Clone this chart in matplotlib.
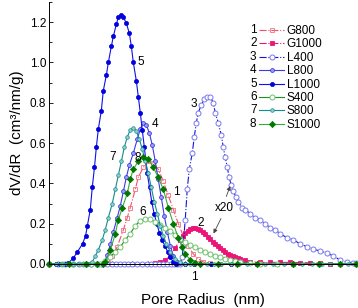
import numpy as np
import matplotlib
matplotlib.use("Agg")
import matplotlib.pyplot as plt
import matplotlib.text as mtext
from matplotlib.legend_handler import HandlerLine2D
from matplotlib.ticker import AutoMinorLocator, NullFormatter

plt.rcParams['font.family'] = ['Liberation Sans', 'DejaVu Sans']

# pore radius (nm) / dV/dR values
g800_x = [0.20, 0.25, 0.30, 0.34, 0.37, 0.386, 0.403, 0.426, 0.456, 0.476, 0.492, 0.520, 0.538, 0.569,
          0.601, 0.635, 0.671, 0.710, 0.750, 0.793, 0.838, 0.885, 0.936, 0.989, 1.045, 1.105, 1.194,
          1.334, 1.6, 2.0, 2.5, 3.0, 4.0, 5.0, 6.0]
g800_y = [0, 0, 0, 0, 0, 0.005, 0.04, 0.085, 0.17, 0.23, 0.28, 0.37, 0.43, 0.48,
          0.51, 0.50, 0.47, 0.41, 0.34, 0.27, 0.20, 0.14, 0.09, 0.05, 0.025, 0.01, 0.003,
          0, 0, 0, 0, 0, 0, 0, 0]

g1000_x = [0.20, 0.30, 0.40, 0.50, 0.60, 0.614, 0.649, 0.686, 0.725, 0.767, 0.810, 0.856, 0.885, 0.905,
           0.936, 0.957, 0.989, 1.011, 1.045, 1.069, 1.105, 1.129, 1.168, 1.194, 1.234, 1.262, 1.305,
           1.334, 1.379, 1.409, 1.457, 1.490, 1.540, 1.575, 1.628, 1.664, 1.759, 1.858, 2.077, 2.320,
           2.591, 2.9, 3.233, 3.6, 4.036, 4.506, 5.0, 6.0]
g1000_y = [0, 0, 0, 0, 0, 0, 0.003, 0.01, 0.02, 0.04, 0.08, 0.12, 0.14, 0.155,
           0.165, 0.175, 0.177, 0.178, 0.175, 0.17, 0.16, 0.15, 0.135, 0.125, 0.11, 0.10, 0.09,
           0.08, 0.07, 0.06, 0.052, 0.045, 0.04, 0.035, 0.03, 0.025, 0.018, 0.012, 0.008, 0.008,
           0.008, 0.008, 0.007, 0.006, 0.004, 0, 0, 0]

l400_x = [0.20, 0.22, 0.24, 0.26, 0.28, 0.30, 0.32, 0.34, 0.36, 0.38, 0.40, 0.42, 0.44, 0.46, 0.48,
          0.50, 0.53, 0.56, 0.59, 0.62, 0.65, 0.68, 0.71, 0.74, 0.77, 0.80, 0.83, 0.856, 0.876, 0.885,
          0.905, 0.925, 0.946, 0.978, 1.0, 1.022, 1.045, 1.081, 1.117, 1.155, 1.194, 1.234, 1.262,
          1.305, 1.348, 1.379, 1.409, 1.441, 1.473, 1.506, 1.540, 1.592, 1.628, 1.702, 1.759, 1.858,
          1.965, 2.077, 2.194, 2.320, 2.452, 2.591, 2.800, 2.992, 3.233, 3.494, 3.734, 4.036, 4.359,
          4.660, 5.035, 5.440, 5.813, 6.0]
l400_y = [0, 0, 0, 0, 0, 0, 0, 0, 0, 0, 0, 0, 0, 0, 0,
          0, 0, 0, 0, 0, 0, 0, 0, 0, 0, 0, 0, 0, 0.035, 0.10,
          0.22, 0.37, 0.47, 0.55, 0.63, 0.70, 0.75, 0.79, 0.82, 0.83, 0.83, 0.80, 0.75,
          0.70, 0.64, 0.58, 0.53, 0.48, 0.43, 0.39, 0.36, 0.33, 0.31, 0.28, 0.27, 0.25,
          0.23, 0.22, 0.20, 0.18, 0.17, 0.15, 0.13, 0.12, 0.10, 0.085, 0.073, 0.065, 0.054,
          0.04, 0.02, 0.01, 0.005, 0.003]

l800_x = [0.20, 0.23, 0.26, 0.29, 0.32, 0.34, 0.353, 0.369, 0.382, 0.395, 0.408, 0.426, 0.441, 0.456,
          0.471, 0.487, 0.509, 0.532, 0.550, 0.569, 0.588, 0.608, 0.628, 0.649, 0.671, 0.694, 0.717,
          0.742, 0.767, 0.793, 0.819, 0.856, 0.905, 1.0, 1.2, 1.5, 2.0, 3.0, 4.0, 5.0, 6.0]
l800_y = [0, 0, 0, 0, 0, 0, 0, 0.01, 0.045, 0.10, 0.16, 0.23, 0.29, 0.36,
          0.43, 0.49, 0.55, 0.62, 0.67, 0.70, 0.69, 0.65, 0.59, 0.51, 0.42, 0.33, 0.24,
          0.16, 0.09, 0.04, 0.015, 0.003, 0, 0, 0, 0, 0, 0, 0, 0, 0]

l1000_x = [0.20, 0.215, 0.227, 0.240, 0.248, 0.262, 0.274, 0.290, 0.300, 0.306, 0.316, 0.323, 0.331,
           0.338, 0.3455, 0.357, 0.365, 0.378, 0.386, 0.399, 0.408, 0.422, 0.431, 0.446, 0.456, 0.471,
           0.487, 0.498, 0.509, 0.526, 0.538, 0.550, 0.562, 0.575, 0.594, 0.609, 0.624, 0.641, 0.660,
           0.680, 0.700, 0.722, 0.745, 0.767, 0.793, 0.819, 0.9, 1.0, 1.2, 1.5, 2.0, 3.0, 4.0, 5.0, 6.0]
l1000_y = [0, 0, 0, 0, 0.005, 0.03, 0.06, 0.10, 0.14, 0.19, 0.27, 0.38, 0.48,
           0.58, 0.67, 0.76, 0.86, 0.94, 1.00, 1.08, 1.13, 1.19, 1.225, 1.237, 1.225, 1.195,
           1.145, 1.08, 1.00, 0.91, 0.83, 0.75, 0.665, 0.58, 0.45, 0.38, 0.31, 0.25, 0.20,
           0.155, 0.12, 0.09, 0.06, 0.035, 0.008, 0, 0, 0, 0, 0, 0, 0, 0, 0, 0]

s400_x = [0.20, 0.23, 0.26, 0.29, 0.32, 0.34, 0.353, 0.373, 0.395, 0.417, 0.441, 0.466, 0.492, 0.520,
          0.550, 0.581, 0.614, 0.649, 0.686, 0.725, 0.767, 0.810, 0.856, 0.905, 0.957, 1.011, 1.069,
          1.129, 1.194, 1.262, 1.334, 1.409, 1.490, 1.575, 1.664, 1.858, 2.077, 2.5, 3.0, 4.0, 5.0, 6.0]
s400_y = [0, 0, 0, 0, 0, 0, 0, 0.015, 0.035, 0.06, 0.085, 0.12, 0.15, 0.19,
          0.215, 0.225, 0.222, 0.21, 0.195, 0.18, 0.165, 0.145, 0.125, 0.11, 0.095, 0.082, 0.07,
          0.06, 0.05, 0.042, 0.035, 0.027, 0.02, 0.013, 0.008, 0.003, 0, 0, 0, 0, 0, 0]

s800_x = [0.20, 0.215, 0.23, 0.245, 0.26, 0.275, 0.29, 0.30, 0.309, 0.323, 0.334, 0.3455, 0.361, 0.373,
          0.386, 0.403, 0.417, 0.431, 0.446, 0.461, 0.476, 0.492, 0.509, 0.526, 0.544, 0.562, 0.581,
          0.601, 0.621, 0.642, 0.664, 0.686, 0.710, 0.734, 0.767, 0.810, 0.856, 0.905, 0.95, 1.0,
          1.07, 1.15, 1.25, 1.35, 1.5, 1.65, 1.8, 2.0, 2.2, 2.4, 2.7, 3.0, 3.3, 3.7, 4.1, 4.5,
          5.0, 5.5, 6.0]
s800_y = [0, 0, 0, 0, 0, 0, 0, 0, 0, 0.01, 0.04, 0.07, 0.12, 0.17,
          0.23, 0.30, 0.37, 0.44, 0.51, 0.58, 0.63, 0.665, 0.675, 0.66, 0.62, 0.57, 0.51,
          0.45, 0.38, 0.31, 0.25, 0.19, 0.14, 0.10, 0.06, 0.025, 0.008, 0, 0, 0,
          0, 0, 0, 0, 0, 0, 0, 0, 0, 0, 0, 0, 0, 0, 0, 0,
          0, 0, 0]

s1000_x = [0.20, 0.25, 0.30, 0.34, 0.365, 0.373, 0.395, 0.417, 0.431, 0.451, 0.476, 0.492, 0.509, 0.538,
           0.569, 0.601, 0.635, 0.671, 0.710, 0.750, 0.793, 0.838, 0.876, 0.905, 0.957, 1.011, 1.069,
           1.3, 1.6, 2.0, 3.0, 4.0, 5.0, 6.0]
s1000_y = [0, 0, 0, 0, 0, 0.01, 0.07, 0.15, 0.22, 0.28, 0.35, 0.42, 0.47, 0.51,
           0.53, 0.52, 0.48, 0.43, 0.37, 0.28, 0.20, 0.13, 0.085, 0.05, 0.02, 0.005, 0,
           0, 0, 0, 0, 0, 0, 0]

numbers = ['1', '2', '3', '4', '5', '6', '7', '8']
names = ['G800', 'G1000', 'L400', 'L800', 'L1000', 'S400', 'S800', 'S1000']

# curve labels on the plot: (text, x, y)
curve_labels = [('5', 0.55, 1.0), ('4', 0.649, 0.694), ('7', 0.403, 0.53), ('8', 0.532, 0.525),
                ('6', 0.562, 0.258), ('1', 0.819, 0.357), ('3', 1.0, 0.793), ('2', 1.069, 0.203)]


class NumberedHandler(HandlerLine2D):
    # draws "n" in front of the legend line, like "1-o-"
    def __init__(self, num, pad=0.75, **kw):
        super().__init__(**kw)
        self.num = num
        self.pad = pad

    def create_artists(self, legend, orig_handle, xdescent, ydescent, width, height, fontsize, trans):
        off = self.pad * fontsize
        artists = super().create_artists(legend, orig_handle, xdescent - off, ydescent,
                                         width - off, height, fontsize, trans)
        t = mtext.Text(-xdescent, (height - ydescent) / 2, self.num, ha='left', va='center',
                       fontsize=fontsize, transform=trans, family='Liberation Sans')
        return list(artists) + [t]


fig = plt.figure(figsize=(3.58, 3.08), dpi=100)
ax = fig.add_axes([49 / 358, 1 - 264 / 308, 307 / 358, 262 / 308])

common = dict(clip_on=False, linewidth=0.8)
lines = []
lines.append(ax.plot(g800_x, g800_y, linestyle='-.', color='#f0506e', marker='s', markersize=3.3,
                     markerfacecolor='none', markeredgecolor='#f2707f', markeredgewidth=0.6, **common)[0])
lines.append(ax.plot(g1000_x, g1000_y, linestyle='-.', color='#ec1477', marker='s', markersize=3.0,
                     markerfacecolor='#ec1477', markeredgecolor='#ec1477', markeredgewidth=0.6, **common)[0])
lines.append(ax.plot(l400_x, l400_y, linestyle='-.', color='#1414d8', marker='o', markersize=3.6,
                     markerfacecolor='white', markeredgecolor='#7878f0', markeredgewidth=0.7, **common)[0])
lines.append(ax.plot(l800_x, l800_y, linestyle='-', color='#3a3ae6', marker='o', markersize=2.8,
                     markerfacecolor='#9a9af4', markeredgecolor='#2828e0', markeredgewidth=0.5, **common)[0])
lines.append(ax.plot(l1000_x, l1000_y, linestyle='-', color='#1010e8', marker='o', markersize=3.0,
                     markerfacecolor='#0000e0', markeredgecolor='#0000e0', markeredgewidth=0.5, **common)[0])
lines.append(ax.plot(s400_x, s400_y, linestyle='-', color='#1f8f1f', marker='o', markersize=3.6,
                     markerfacecolor='white', markeredgecolor='#6cc36c', markeredgewidth=0.7, **common)[0])
lines.append(ax.plot(s800_x, s800_y, linestyle='-', color='#178a8a', marker='o', markersize=2.6,
                     markerfacecolor='#8fd0d0', markeredgecolor='#178a8a', markeredgewidth=0.5, **common)[0])
lines.append(ax.plot(s1000_x, s1000_y, linestyle='-', color='#3aa83a', marker='D', markersize=3.2,
                     markerfacecolor='#007800', markeredgecolor='#007800', markeredgewidth=0.5, **common)[0])

ax.set_xscale('log')
ax.set_xlim(0.2, 6.0)
ax.set_ylim(0, 1.3)
ax.set_xticks([1])
ax.set_xticklabels(['1'])
ax.xaxis.set_minor_formatter(NullFormatter())
ax.set_yticks([0.0, 0.2, 0.4, 0.6, 0.8, 1.0, 1.2])
ax.set_yticklabels(['0.0', '0.2', '0.4', '0.6', '0.8', '1.0', '1.2'])
ax.yaxis.set_minor_locator(AutoMinorLocator(2))
ax.tick_params(which='both', direction='in', labelsize=8.5, width=0.6, pad=2)
ax.tick_params(axis='x', which='both', pad=5)
ax.tick_params(which='major', length=3)
ax.tick_params(which='minor', length=2)
for side in ['top', 'right']:
    ax.spines[side].set_visible(False)
for side in ['left', 'bottom']:
    ax.spines[side].set_linewidth(0.7)

ax.set_xlabel('Pore Radius  (nm)', fontsize=11, labelpad=7)
ax.set_ylabel('dV/dR  (cm³/nm/g)', fontsize=11, labelpad=4)

for txt, x, y in curve_labels:
    ax.text(x, y, txt, fontsize=8.5, ha='center', va='center')

ax.text(1.394, 0.278, 'x20', fontsize=8.5, ha='center', va='center')
ax.annotate('', xy=(1.506, 0.40), xytext=(1.41, 0.322),
            arrowprops=dict(arrowstyle='-|>', color='#444444', lw=0.6, mutation_scale=6))
ax.annotate('', xy=(1.221, 0.139), xytext=(1.363, 0.238),
            arrowprops=dict(arrowstyle='-|>', color='#444444', lw=0.6, mutation_scale=6))

handler_map = {ln: NumberedHandler(n, numpoints=1) for ln, n in zip(lines, numbers)}
leg = fig.legend(lines, names, loc='upper left', bbox_to_anchor=(250 / 358, 1 - 25 / 308),
                 frameon=False, fontsize=8.5, handlelength=2.9, handletextpad=0.2,
                 labelspacing=0.12, borderpad=0, borderaxespad=0, handler_map=handler_map)

fig.savefig('out.png', dpi=100)
